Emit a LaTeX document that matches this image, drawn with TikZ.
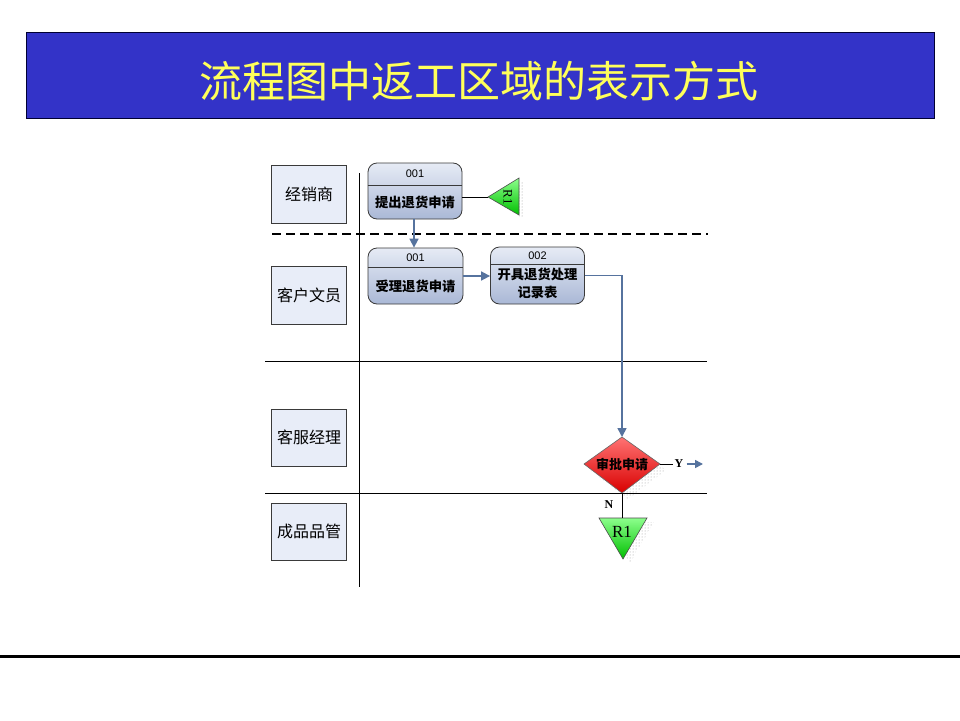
\documentclass[tikz,border=0pt]{standalone}
\usepackage{fontspec}
\setmainfont{Liberation Serif}
\setsansfont{Liberation Sans}
\newfontfamily\cjk{Noto Sans CJK SC}
\usetikzlibrary{arrows.meta,patterns}
\definecolor{titleblue}{HTML}{3333C8}
\definecolor{titleyellow}{HTML}{FFFF5A}
\definecolor{lanefill}{HTML}{E8EDF8}
\definecolor{boxedge}{HTML}{3A3A3A}
\definecolor{boxtop}{HTML}{E6EBF5}
\definecolor{boxbot}{HTML}{AAB8D6}
\definecolor{conn}{HTML}{56739E}
\tikzset{
  lanebox/.style={draw=boxedge, fill=lanefill, line width=0.8pt, minimum width=75pt, minimum height=58pt, inner sep=0pt, font=\cjk\fontsize{16}{16}\selectfont},
  procbox/.style={draw=boxedge, line width=0.8pt, rounded corners=9pt, top color=boxtop, bottom color=boxbot, inner sep=0pt},
  numtext/.style={font=\sffamily\fontsize{11}{11}\selectfont, inner sep=0pt},
  bodytext/.style={font=\cjk\bfseries\fontsize{13.3}{18}\selectfont, inner sep=0pt, align=center},
  flow/.style={draw=conn, line width=1.6pt, -{Triangle[length=9pt,width=9pt]}},
  plain/.style={draw=black, line width=0.7pt},
  lanerule/.style={draw=black, line width=0.8pt},
  shadowdots/.style={pattern=dots, pattern color=gray!80},
  greentri/.style={draw=black!70, line width=0.6pt, top color=green!45!white, bottom color=green!75!black},
}
\begin{document}
\begin{tikzpicture}[x=1pt,y=1pt]
\useasboundingbox (0,0) rectangle (960,-720);
\fill[white] (0,0) rectangle (960,-720);

% title
\node[draw=black!80!blue, fill=titleblue, line width=1pt, minimum width=908pt, minimum height=86pt, inner sep=0pt] (title) at (480,-75) {};
\node[text=titleyellow, font=\cjk\fontsize{43}{43}\selectfont, inner sep=0pt] (titletext) at (479,-81) {流程图中返工区域的表示方式};

% bottom rule
\coordinate (bl) at (0,-656);
\coordinate (br) at (960,-656);
\draw[line width=3pt] (bl) -- (br);

% lane lines
\coordinate (vt) at (359,-173);
\coordinate (vb) at (359,-587);
\draw[lanerule] (vt) -- (vb);
\coordinate (dl) at (272,-234);
\coordinate (dr) at (708,-234);
\draw[black, line width=1.8pt, dash pattern=on 9pt off 5pt] (dl) -- (dr);
\coordinate (h1l) at (265,-361);
\coordinate (h1r) at (707,-361);
\draw[lanerule] (h1l) -- (h1r);
\coordinate (h2l) at (265,-493);
\coordinate (h2r) at (707,-493);
\draw[lanerule] (h2l) -- (h2r);

% lane labels
\node[lanebox] (lane1) at (309,-194) {经销商};
\node[lanebox] (lane2) at (309,-295.5) {客户文员};
\node[lanebox, minimum height=57pt] (lane3) at (309,-437.5) {客服经理};
\node[lanebox, minimum height=57pt] (lane4) at (309,-531.5) {成品品管};

% process boxes
\node[procbox, minimum width=94pt, minimum height=56pt] (p1) at (415,-191) {};
\draw[boxedge, line width=0.8pt] (p1.west |- 0,-185) -- (p1.east |- 0,-185);
\node[numtext] (p1n) at (415,-174) {001};
\node[bodytext] (p1t) at (415,-202) {提出退货申请};

\node[procbox, minimum width=95pt, minimum height=56pt] (p2) at (415.5,-276) {};
\draw[boxedge, line width=0.8pt] (p2.west |- 0,-267) -- (p2.east |- 0,-267);
\node[numtext] (p2n) at (415.5,-258) {001};
\node[bodytext] (p2t) at (415.5,-286) {受理退货申请};

\node[procbox, minimum width=94pt, minimum height=57pt] (p3) at (537.5,-275.5) {};
\draw[boxedge, line width=0.8pt] (p3.west |- 0,-264) -- (p3.east |- 0,-264);
\node[numtext] (p3n) at (537.5,-256) {002};
\node[bodytext] (p3t) at (537.5,-283) {开具退货处理\\记录表};

% R1 triangle (top, pointing left)
\coordinate (t1a) at (488,-197);
\coordinate (t1b) at (519,-178);
\coordinate (t1c) at (519,-215);
\fill[shadowdots] (524,-181) -- (524,-219) -- (494,-201) -- cycle;
\draw[greentri] (t1a) -- (t1b) -- (t1c) -- cycle;
\node[rotate=-90, font=\rmfamily\fontsize{13}{13}\selectfont, inner sep=0pt] (t1t) at (508,-197) {R1};

% diamond
\coordinate (dN) at (622,-437);
\coordinate (dE) at (660,-464);
\coordinate (dS) at (622,-493);
\coordinate (dW) at (584,-464);
\fill[shadowdots] (628,-443) -- (666,-470) -- (628,-499) -- (590,-470) -- cycle;
\draw[draw=black!60, line width=0.6pt, top color=red!55!white, bottom color=red!85!black] (dN) -- (dE) -- (dS) -- (dW) -- cycle;
\node[font=\cjk\bfseries\fontsize{13}{13}\selectfont, inner sep=0pt] (dt) at (622,-464) {审批申请};

% R1 triangle (bottom, pointing down)
\coordinate (t2l) at (599,-518);
\coordinate (t2r) at (647,-518);
\coordinate (t2a) at (623,-559);
\coordinate (t2top) at (622,-518);
\fill[shadowdots] (606,-522) -- (654,-522) -- (630,-563) -- cycle;
\draw[greentri] (t2l) -- (t2r) -- (t2a) -- cycle;
\node[font=\rmfamily\fontsize{17}{17}\selectfont, inner sep=0pt] (t2t) at (622,-532) {R1};

% connectors
\draw[plain] (p1.east |- t1a) -- (t1a);
\draw[flow] (p1.south -| 414,0) -- (p2.north -| 414,0);
\draw[flow] (p2.east) -- (p2.east -| p3.west);
\draw[flow] (p3.east) -| (dN);
\node[font=\rmfamily\bfseries\fontsize{12}{12}\selectfont, inner sep=1pt] (ylab) at (679,-464) {Y};
\draw[plain] (dE) -- (ylab.west);
\coordinate (yend) at (703,-464);
\draw[draw=conn, line width=1.6pt, -{Triangle[length=8pt,width=8pt]}] (ylab.east) ++(2,0) -- (yend);
\draw[plain] (dS) -- (t2top);
\node[font=\rmfamily\bfseries\fontsize{12}{12}\selectfont, inner sep=0pt] (nlab) at (609,-505) {N};
\end{tikzpicture}
\end{document}
